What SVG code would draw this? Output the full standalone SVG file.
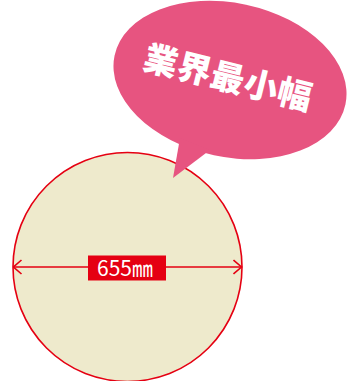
<svg xmlns="http://www.w3.org/2000/svg" width="347" height="381" viewBox="0 0 347 381">
  <defs>
    <style>
      .disc { fill: #EEEACC; stroke: #E50012; stroke-width: 1.6; }
      .bubble { fill: #E75480; }
      .dim { stroke: #E50012; stroke-width: 1.6; fill: none; }
      .labelbox { fill: #E50012; }
      .labeltext { fill: #FFFFFF; font-family: "Noto Sans CJK JP", "Noto Sans", sans-serif; font-size: 21px; }
      .bubbletext { fill: #FFFFFF; font-family: "Noto Sans CJK JP", sans-serif; font-weight: 900; font-size: 34px; letter-spacing: 0.5px; }
    </style>
    <marker id="openArrow" viewBox="0 0 10 16" refX="9" refY="8" markerWidth="10" markerHeight="16" markerUnits="userSpaceOnUse" orient="auto-start-reverse">
      <path d="M1,1 L9,8 L1,15" fill="none" stroke="#E50012" stroke-width="1.6"/>
    </marker>
  </defs>

  <g id="disc">
    <circle class="disc" cx="127.5" cy="267" r="114.5"/>
  </g>

  <g id="connectors">
    <line class="dim" x1="13.5" y1="267" x2="241.5" y2="267" marker-start="url(#openArrow)" marker-end="url(#openArrow)"/>
  </g>

  <g id="dimension-label">
    <rect class="labelbox" x="88" y="255.5" width="78" height="25"/>
    <text class="labeltext" x="97" y="275.5">655㎜</text>
  </g>

  <g id="speech-bubble">
    <ellipse class="bubble" cx="230" cy="80" rx="118" ry="77" transform="rotate(12 230 80)"/>
    <polygon class="bubble" points="180,138 210,150 173,178"/>
    <text class="bubbletext" x="228" y="90" text-anchor="middle" transform="rotate(14 228 78)">業界最小幅</text>
  </g>
</svg>
